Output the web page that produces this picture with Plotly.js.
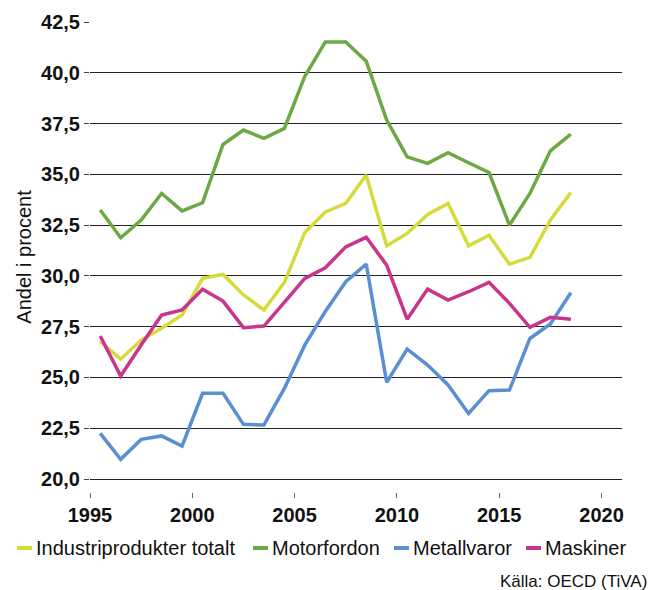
<!DOCTYPE html>
<html>
<head>
<meta charset="utf-8">
<script src="https://cdn.plot.ly/plotly-3.0.1.min.js"></script>
<style>
html,body{margin:0;padding:0;background:#fff;}
#chart{width:650px;height:590px;}
</style>
</head>
<body>
<div id="chart"></div>
<script>
// Annual data, plotted at mid-year
var years = [1995,1996,1997,1998,1999,2000,2001,2002,2003,2004,2005,2006,2007,2008,2009,2010,2011,2012,2013,2014,2015,2016,2017,2018];

var seriesNames = ["Industriprodukter totalt", "Motorfordon", "Metallvaror", "Maskiner"];

var industriprodukter = [26.76,25.90,26.84,27.42,28.07,29.88,30.07,29.06,28.32,29.68,32.14,33.15,33.57,34.96,31.48,32.09,33.03,33.57,31.48,32.00,30.58,30.91,32.75,34.10];
var motorfordon      = [33.24,31.88,32.75,34.06,33.20,33.60,36.47,37.18,36.77,37.26,39.83,41.52,41.52,40.57,37.67,35.86,35.54,36.06,35.57,35.09,32.50,34.06,36.16,36.98];
var metallvaror      = [22.25,20.97,21.95,22.12,21.62,24.22,24.22,22.69,22.66,24.46,26.60,28.25,29.71,30.58,24.76,26.40,25.61,24.63,23.23,24.35,24.38,26.92,27.63,29.17];
var maskiner         = [27.04,25.07,26.60,28.07,28.32,29.34,28.76,27.45,27.53,28.73,29.88,30.40,31.43,31.90,30.53,27.87,29.35,28.81,29.22,29.68,28.65,27.47,27.96,27.86];

var yTickVals = [20,22.5,25,27.5,30,32.5,35,37.5,40,42.5];
var xTickVals = [1995,2000,2005,2010,2015,2020];

var yTitle = "Andel i procent";
var sourceText = "Källa: OECD (TiVA)";

// styles
var colors = ["#d6db3b", "#6aa944", "#5a8fd1", "#c8358b"];
var values = [industriprodukter, motorfordon, metallvaror, maskiner];
var FONT = "Liberation Sans, Arial, sans-serif";

var xMid = years.map(function(y){ return y + 0.5; });

var traces = values.map(function(v, i){
  return {
    x: xMid, y: v, name: seriesNames[i], type: "scatter", mode: "lines",
    line: {color: colors[i], width: 3.5},
    showlegend: false, hoverinfo: "x+y+name"
  };
});

// custom legend (one row below the plot), positions in pixels converted to paper coords
var plotL = 90, plotW = 532, plotT = 22, plotH = 470;
function px2x(px){ return (px - plotL) / plotW; }
function py2y(py){ return (plotT + plotH - py) / plotH; }
var legendTextStart = [36, 272, 413, 545];
var legendRowY = 548;

var annotations = seriesNames.map(function(n, i){
  return {
    xref: "paper", yref: "paper", x: px2x(legendTextStart[i] - 2), y: py2y(legendRowY),
    xanchor: "left", yanchor: "middle", text: n, showarrow: false,
    font: {family: FONT, size: 20, color: "#111"}
  };
});
annotations.push({
  xref: "paper", yref: "paper", x: px2x(649), y: py2y(581),
  xanchor: "right", yanchor: "middle", text: sourceText, showarrow: false,
  font: {family: FONT, size: 17, color: "#111"}
});

var shapes = seriesNames.map(function(n, i){
  return {
    type: "line", xref: "paper", yref: "paper",
    x0: px2x(legendTextStart[i] - 19), x1: px2x(legendTextStart[i] - 4),
    y0: py2y(legendRowY), y1: py2y(legendRowY),
    line: {color: colors[i], width: 4}
  };
});

var layout = {
  width: 650, height: 590,
  margin: {l: plotL, r: 650 - plotL - plotW, t: plotT, b: 590 - plotT - plotH, pad: 0},
  paper_bgcolor: "#fff", plot_bgcolor: "#fff",
  separators: ", ",
  font: {family: FONT, color: "#111"},
  showlegend: false,
  xaxis: {
    range: [1995, 2021], tickvals: xTickVals, tickformat: "d",
    ticks: "outside", ticklen: 5, tickwidth: 1, tickcolor: "#666",
    showgrid: false, zeroline: false, showline: false,
    tickfont: {family: FONT, size: 20, color: "#111", weight: "bold"}
  },
  yaxis: {
    range: [19.36, 42.5], tickvals: yTickVals, tickformat: ".1f",
    ticks: "outside", ticklen: 5, tickwidth: 1, tickcolor: "#444",
    showgrid: true, gridcolor: "#222", gridwidth: 1,
    zeroline: false, showline: false,
    tickfont: {family: FONT, size: 20, color: "#111", weight: "bold"},
    title: {text: yTitle, font: {family: FONT, size: 20, color: "#111"}, standoff: 4}
  },
  annotations: annotations,
  shapes: shapes
};

Plotly.newPlot("chart", traces, layout, {displayModeBar: false, staticPlot: true});
</script>
</body>
</html>
